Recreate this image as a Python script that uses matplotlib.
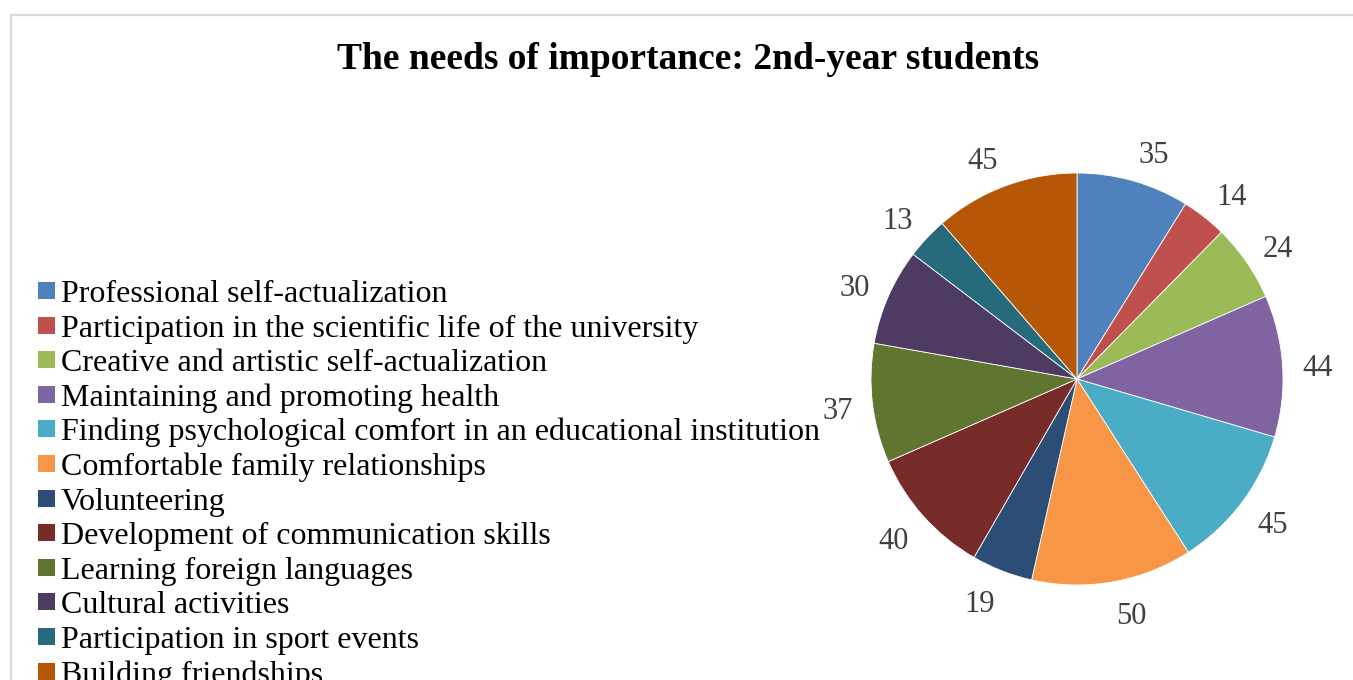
import matplotlib
matplotlib.use("Agg")
import numpy as np
import matplotlib.pyplot as plt
from matplotlib.patches import Rectangle
from matplotlib.lines import Line2D

categories = [
    "Professional self-actualization",
    "Participation in the scientific life of the university",
    "Creative and artistic self-actualization",
    "Maintaining and promoting health",
    "Finding psychological comfort in an educational institution",
    "Comfortable family relationships",
    "Volunteering",
    "Development of communication skills",
    "Learning foreign languages",
    "Cultural activities",
    "Participation in sport events",
    "Building friendships",
]
values = [35, 14, 24, 44, 45, 50, 19, 40, 37, 30, 13, 45]
colors = ["#4F81BD", "#C0504D", "#9BBB59", "#8064A2", "#4BACC6", "#F79646",
          "#2C4D75", "#772C2A", "#5F7530", "#4D3B62", "#276A7C", "#B65708"]
title = "The needs of importance: 2nd-year students"

W, H = 1353, 680
fig = plt.figure(figsize=(W / 100, H / 100), dpi=100)
fig.patch.set_facecolor("white")
serif = ["Liberation Serif", "DejaVu Serif"]

# outer frame
fig.add_artist(Line2D([11 / W, 1.0], [1 - 14.5 / H, 1 - 14.5 / H], color="#D9D9D9", lw=1.6, transform=fig.transFigure))
fig.add_artist(Line2D([11 / W, 11 / W], [0, 1 - 14.5 / H], color="#D9D9D9", lw=1.6, transform=fig.transFigure))

fig.text(688 / W, 1 - 69 / H, title, ha="center", va="baseline", fontsize=27,
         fontweight="bold", family=serif)

cx, cy, r = 1077, 379, 206
ax = fig.add_axes([(cx - r) / W, 1 - (cy + r) / H, 2 * r / W, 2 * r / H])
wedges, _ = ax.pie(values, colors=colors, startangle=90, counterclock=False,
                   wedgeprops=dict(edgecolor="white", linewidth=0.6))
# outside-end data labels (Excel-like placement)
gap, half_w, half_h = 20, 15, 11
for w, v in zip(wedges, values):
    ang = np.deg2rad((w.theta1 + w.theta2) / 2)
    ux, uy = np.cos(ang), np.sin(ang)
    px = (r + gap) * ux + half_w * np.sign(ux)
    py = (r + gap) * uy + half_h * uy
    ax.text(px / r, (py - 12) / r, str(v), ha="center", va="baseline", fontsize=22,
            color="#404040", family=serif, clip_on=False)
ax.set_xlim(-1, 1)
ax.set_ylim(-1, 1)
ax.set_aspect("auto")
ax.axis("off")

# legend
base0, dy = 302, 34.6
sq = 17
for i, (cat, col) in enumerate(zip(categories, colors)):
    yb = base0 + i * dy
    yc = yb - 11.5
    fig.add_artist(Rectangle((38 / W, 1 - (yc + sq / 2) / H), sq / W, sq / H,
                             facecolor=col, edgecolor="none", transform=fig.transFigure))
    fig.text(61 / W, 1 - yb / H, cat, ha="left", va="baseline", fontsize=23,
             family=serif, color="black")

fig.savefig("out.png", dpi=100)
